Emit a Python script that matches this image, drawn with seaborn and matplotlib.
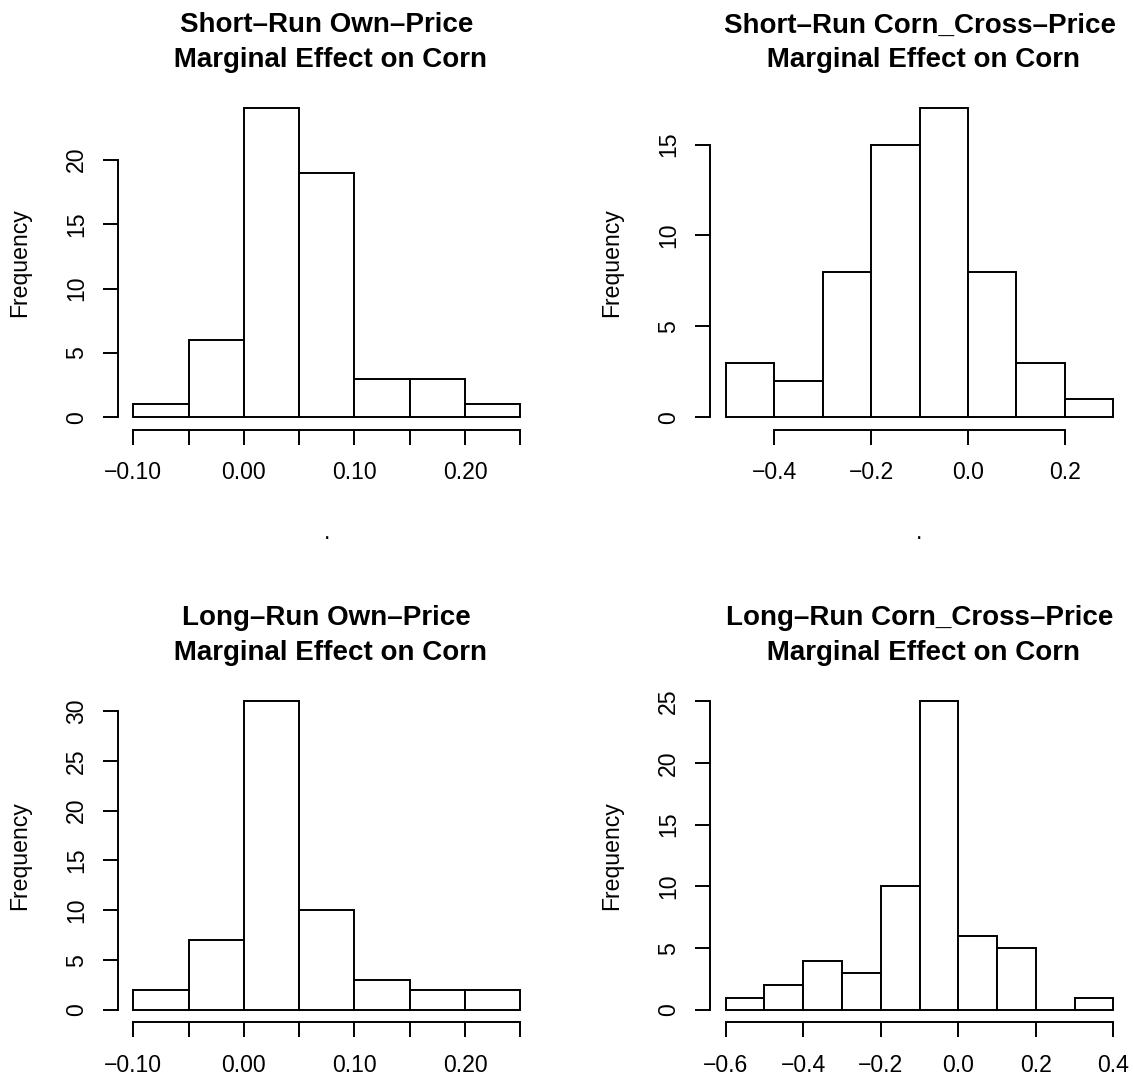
import numpy as np
import pandas as pd
import matplotlib
matplotlib.use('Agg')
import matplotlib.pyplot as plt
import seaborn as sns

# ---- data (bin edges + counts) ----
sr_own_edges = [-0.10, -0.05, 0.00, 0.05, 0.10, 0.15, 0.20, 0.25]
sr_own_counts = [1, 6, 24, 19, 3, 3, 1]

sr_cross_edges = [-0.5, -0.4, -0.3, -0.2, -0.1, 0.0, 0.1, 0.2, 0.3]
sr_cross_counts = [3, 2, 8, 15, 17, 8, 3, 1]

lr_own_edges = [-0.10, -0.05, 0.00, 0.05, 0.10, 0.15, 0.20, 0.25]
lr_own_counts = [2, 7, 31, 10, 3, 2, 2]

lr_cross_edges = [-0.6, -0.5, -0.4, -0.3, -0.2, -0.1, 0.0, 0.1, 0.2, 0.3, 0.4]
lr_cross_counts = [1, 2, 4, 3, 10, 25, 6, 5, 0, 1]

titles = ['Short\u2013Run Own\u2013Price\n Marginal Effect on Corn',
          'Short\u2013Run Corn_Cross\u2013Price\n Marginal Effect on Corn',
          'Long\u2013Run Own\u2013Price\n Marginal Effect on Corn',
          'Long\u2013Run Corn_Cross\u2013Price\n Marginal Effect on Corn']

own_xticks = [-0.10, -0.05, 0.00, 0.05, 0.10, 0.15, 0.20, 0.25]
own_xlabels = ['\u22120.10', '', '0.00', '', '0.10', '', '0.20', '']
sr_cross_xticks = [-0.4, -0.2, 0.0, 0.2]
sr_cross_xlabels = ['\u22120.4', '\u22120.2', '0.0', '0.2']
lr_cross_xticks = [-0.6, -0.4, -0.2, 0.0, 0.2, 0.4]
lr_cross_xlabels = ['\u22120.6', '\u22120.4', '\u22120.2', '0.0', '0.2', '0.4']

sr_own_yticks = [0, 5, 10, 15, 20]
sr_cross_yticks = [0, 5, 10, 15]
lr_own_yticks = [0, 5, 10, 15, 20, 25, 30]
lr_cross_yticks = [0, 5, 10, 15, 20, 25]

sns.set_theme(style='ticks')
plt.rcParams['font.family'] = ['Liberation Sans', 'DejaVu Sans']

W, H = 1133, 1078
fig = plt.figure(figsize=(W / 100, H / 100), dpi=100)


def px_axes(left, top, right, bottom):
    return fig.add_axes([left / W, 1 - bottom / H, (right - left) / W, (bottom - top) / H])


def draw(ax, edges, counts, title, xticks, xlabels, yticks, xlabel):
    e = np.array(edges)
    mids = (e[:-1] + e[1:]) / 2
    df = pd.DataFrame({'mid': mids, 'n': counts})
    sns.histplot(data=df, x='mid', weights='n', bins=list(edges), ax=ax,
                 color='white', edgecolor='black', linewidth=1.4, alpha=1)
    span = edges[-1] - edges[0]
    top = max(counts)
    ax.set_xlim(edges[0] - 0.04 * span, edges[-1] + 0.04 * span)
    ax.set_ylim(-0.04 * top, 1.04 * top)
    for s in ['top', 'right']:
        ax.spines[s].set_visible(False)
    for s in ['left', 'bottom']:
        ax.spines[s].set_linewidth(1.4)
        ax.spines[s].set_color('black')
    ax.spines['bottom'].set_bounds(xticks[0], xticks[-1])
    ax.spines['left'].set_bounds(yticks[0], yticks[-1])
    ax.set_xticks(xticks)
    ax.set_xticklabels(xlabels)
    ax.set_yticks(yticks)
    ax.set_yticklabels([str(v) for v in yticks], rotation=90, va='center')
    ax.tick_params(length=10.6, width=1.4, colors='black', labelsize=16.6)
    ax.tick_params(axis='x', pad=12)
    ax.tick_params(axis='y', pad=11)
    ax.set_title(title, fontsize=20, fontweight='bold', pad=20.7,
                 linespacing=1.43, color='black')
    ax.set_ylabel('Frequency', fontsize=16.6, color='black')
    ax.yaxis.set_label_coords(-0.208, 0.5)
    ax.set_xlabel(xlabel, fontsize=16.6, color='black')
    ax.xaxis.set_label_coords(0.5, -0.273)


ax1 = px_axes(117.8, 95.8, 535.8, 429.7)
draw(ax1, sr_own_edges, sr_own_counts, titles[0], own_xticks, own_xlabels, sr_own_yticks, '.')

ax2 = px_axes(710.2, 95.8, 1128.8, 429.7)
draw(ax2, sr_cross_edges, sr_cross_counts, titles[1], sr_cross_xticks, sr_cross_xlabels, sr_cross_yticks, '.')

ax3 = px_axes(117.8, 688.7, 535.8, 1022.3)
draw(ax3, lr_own_edges, lr_own_counts, titles[2], own_xticks, own_xlabels, lr_own_yticks, '')

ax4 = px_axes(710.2, 688.7, 1128.8, 1022.3)
draw(ax4, lr_cross_edges, lr_cross_counts, titles[3], lr_cross_xticks, lr_cross_xlabels, lr_cross_yticks, '')

fig.savefig('out.png', dpi=100, facecolor='white')
